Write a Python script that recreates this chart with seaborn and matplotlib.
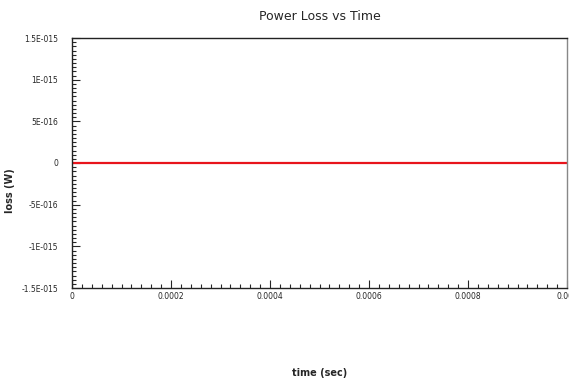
import numpy as np
import pandas as pd
import matplotlib.pyplot as plt
import seaborn as sns
from matplotlib.ticker import AutoMinorLocator

# Data
time_sec = [0.0, 0.0002, 0.0004, 0.0006, 0.0008, 0.001]
loss_w = [0.0, 0.0, 0.0, 0.0, 0.0, 0.0]
x_ticks = [0, 0.0002, 0.0004, 0.0006, 0.0008, 0.001]
x_labels = ['0', '0.0002', '0.0004', '0.0006', '0.0008', '0.001']
y_ticks = [-1.5e-15, -1e-15, -5e-16, 0, 5e-16, 1e-15, 1.5e-15]
y_labels = ['-1.5E-015', '-1E-015', '-5E-016', '0', '5E-016', '1E-015', '1.5E-015']

data = pd.DataFrame({'time': time_sec, 'loss': loss_w})

sns.set_style('white')
plt.rcParams['font.family'] = ['DejaVu Sans']

fig = plt.figure(figsize=(5.69, 3.82), dpi=100)
ax = fig.add_axes([72 / 569, 1 - 288 / 382, 495 / 569, 250 / 382])

sns.lineplot(x='time', y='loss', data=data, ax=ax, color='#e8141c', linewidth=1.6)

ax.set_xlim(0, 0.001)
ax.set_ylim(-1.5e-15, 1.5e-15)
ax.set_xticks(x_ticks)
ax.set_xticklabels(x_labels)
ax.set_yticks(y_ticks)
ax.set_yticklabels(y_labels)
ax.xaxis.set_minor_locator(AutoMinorLocator(10))
ax.yaxis.set_minor_locator(AutoMinorLocator(10))
ax.tick_params(which='major', direction='in', length=6, width=0.8, labelsize=5.5)
ax.tick_params(which='minor', direction='in', length=3, width=0.8)
ax.tick_params(axis='x', which='both', bottom=True, top=False, pad=3)
ax.tick_params(axis='y', which='both', left=True, right=False, pad=10)

for side in ['left', 'top', 'bottom']:
    ax.spines[side].set_color('#222222')
    ax.spines[side].set_linewidth(1.0)
ax.spines['right'].set_color('#888888')
ax.spines['right'].set_linewidth(1.0)

ax.set_xlabel('time (sec)', fontsize=7, fontweight='bold')
ax.set_ylabel('loss (W)', fontsize=7, fontweight='bold')
ax.xaxis.set_label_coords(0.5, -0.32)
ax.yaxis.set_label_coords(-0.115, 0.39)
ax.set_title('Power Loss vs Time', fontsize=9, pad=13)

fig.savefig('out.png', dpi=100)
